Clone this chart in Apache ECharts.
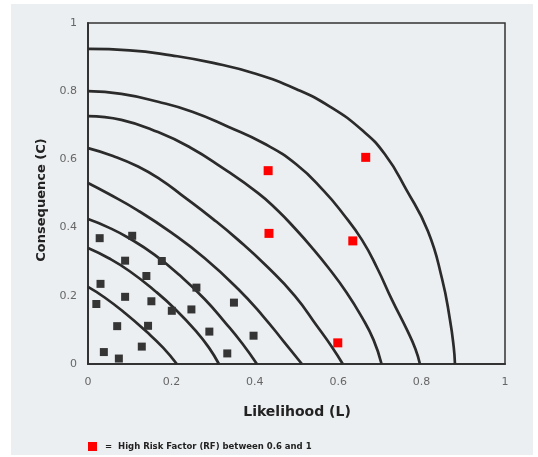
<!DOCTYPE html>
<html>
<head>
<meta charset="utf-8">
<script src="https://cdn.jsdelivr.net/npm/echarts@6/dist/echarts.min.js"></script>
<style>html,body{margin:0;padding:0;background:#fff}#c{width:538px;height:457px}</style>
</head>
<body>
<div id="c"></div>
<script>
// Tick labels
var xTicks = ['0', '0.2', '0.4', '0.6', '0.8', '1'];
var yTicks = ['0', '0.2', '0.4', '0.6', '0.8', '1'];

// Iso-risk curves, [L, C]
var curveA = [[0,0.924],[0.1,0.92],[0.2,0.905],[0.3,0.883],[0.4,0.852],[0.5,0.806],[0.58,0.755],[0.657,0.686],[0.712,0.615],[0.764,0.51],[0.815,0.39],[0.849,0.25],[0.868,0.13],[0.877,0.05],[0.88,0]];
var curveB = [[0,0.8],[0.08,0.792],[0.168,0.769],[0.25,0.74],[0.336,0.696],[0.42,0.648],[0.5,0.585],[0.566,0.507],[0.612,0.44],[0.657,0.364],[0.694,0.28],[0.729,0.188],[0.765,0.1],[0.785,0.045],[0.796,0]];
var curveC = [[0,0.727],[0.08,0.716],[0.168,0.68],[0.245,0.635],[0.319,0.578],[0.408,0.501],[0.455,0.45],[0.496,0.398],[0.536,0.343],[0.576,0.283],[0.62,0.21],[0.656,0.139],[0.685,0.07],[0.704,0]];
var curveD = [[0,0.633],[0.06,0.61],[0.12,0.579],[0.175,0.54],[0.224,0.496],[0.3,0.425],[0.36,0.364],[0.43,0.285],[0.496,0.2],[0.55,0.11],[0.585,0.05],[0.611,0]];
var curveE = [[0,0.531],[0.048,0.5],[0.12,0.45],[0.2,0.385],[0.28,0.31],[0.36,0.22],[0.42,0.14],[0.47,0.065],[0.513,0]];
var curveF = [[0,0.425],[0.05,0.4],[0.1,0.368],[0.16,0.32],[0.22,0.26],[0.28,0.19],[0.33,0.12],[0.37,0.06],[0.405,0]];
var curveG = [[0,0.34],[0.05,0.31],[0.1,0.272],[0.16,0.215],[0.21,0.16],[0.26,0.095],[0.29,0.048],[0.314,0]];
var curveH = [[0,0.226],[0.04,0.195],[0.09,0.148],[0.14,0.095],[0.18,0.048],[0.213,0]];
var curves = [curveA, curveB, curveC, curveD, curveE, curveF, curveG, curveH];

// Ordinary risk points [L, C]
var normalPoints = [[0.028,0.369],[0.106,0.376],[0.089,0.303],[0.177,0.302],[0.140,0.258],[0.030,0.235],[0.089,0.197],[0.260,0.224],[0.020,0.176],[0.152,0.184],[0.201,0.156],[0.248,0.160],[0.350,0.180],[0.070,0.111],[0.144,0.112],[0.291,0.095],[0.397,0.083],[0.038,0.035],[0.129,0.051],[0.334,0.031],[0.074,0.016]];
// High risk points [L, C]
var highPoints = [[0.432,0.567],[0.666,0.606],[0.434,0.383],[0.635,0.361],[0.599,0.062]];

var chart = echarts.init(document.getElementById('c'), null, {renderer:'canvas'});
var series = curves.map(function(c){
  return {type:'line', data:c, smooth:0.5, showSymbol:false, silent:true,
    lineStyle:{color:'#2b2b2b', width:2.7}, z:3};
});
series.push({type:'scatter', data:normalPoints, symbol:'rect', symbolSize:8,
  itemStyle:{color:'#353535', opacity:1}, z:5});
series.push({type:'scatter', data:highPoints, symbol:'rect', symbolSize:9,
  itemStyle:{color:'#ff0000', opacity:1}, z:5});

var option = {
  backgroundColor:'#ffffff',
  animation:false,
  grid:{left:88, right:33, top:23, bottom:93, show:true, borderColor:'#333', borderWidth:1.5},
  xAxis:{type:'value', min:0, max:1, interval:0.2,
    axisLine:{show:true, lineStyle:{color:'#333', width:2}},
    axisTick:{show:false}, splitLine:{show:false},
    axisLabel:{margin:13, color:'#666', fontSize:11, fontFamily:'DejaVu Sans',
      formatter:function(v){return xTicks[Math.round(v*5)];}}},
  yAxis:{type:'value', min:0, max:1, interval:0.2,
    axisLine:{show:true, lineStyle:{color:'#333', width:2}},
    axisTick:{show:false}, splitLine:{show:false},
    axisLabel:{margin:11, color:'#666', fontSize:11, fontFamily:'DejaVu Sans',
      formatter:function(v){return yTicks[Math.round(v*5)];}}},
  graphic:[
    {type:'rect', z:-10, shape:{x:11, y:4, width:522, height:451}, style:{fill:'#eceff1'}},
    {type:'text', style:{text:'Likelihood (L)', x:297, y:412, align:'center', verticalAlign:'middle', font:'bold 14px "DejaVu Sans"', fill:'#222'}},
    {type:'text', rotation:Math.PI/2, x:42, y:200, style:{text:'Consequence (C)', x:0, y:0, align:'center', verticalAlign:'middle', font:'bold 13px "DejaVu Sans"', fill:'#222'}},
    {type:'rect', shape:{x:88, y:442, width:9, height:9}, style:{fill:'#ff0000'}},
    {type:'text', style:{text:'=  High Risk Factor (RF) between 0.6 and 1', x:105, y:447, verticalAlign:'middle', font:'bold 8.5px "DejaVu Sans"', fill:'#222'}}
  ],
  series:series
};
chart.setOption(option);
</script>
</body>
</html>
